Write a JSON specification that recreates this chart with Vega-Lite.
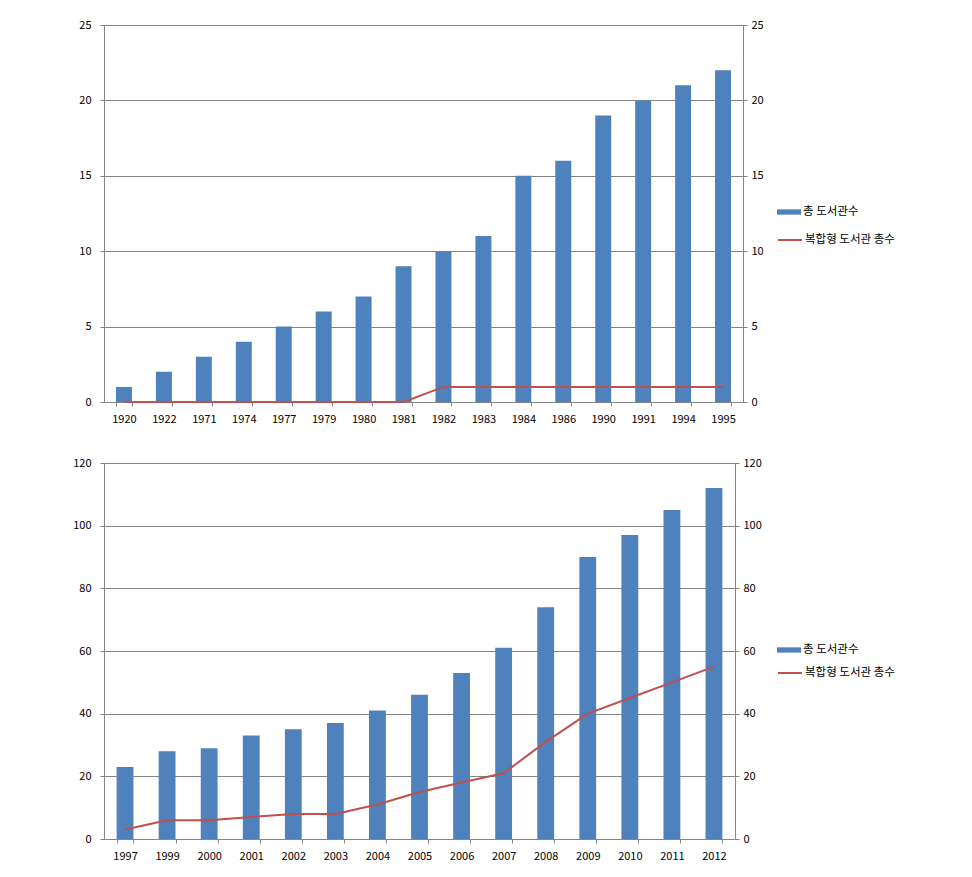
{
  "$schema": "https://vega.github.io/schema/vega-lite/v6.json",
  "padding": {"left": 72, "top": 19, "right": 0, "bottom": 0},
  "background": "white",
  "spacing": 33,
  "config": {
    "font": "Noto Sans CJK KR",
    "view": {"stroke": null},
    "axis": {
      "labelFont": "Noto Sans CJK KR",
      "labelFontSize": 11,
      "labelColor": "#000000",
      "domainColor": "#868686",
      "tickColor": "#868686",
      "gridColor": "#868686",
      "tickSize": 4,
      "title": null
    },
    "legend": {
      "orient": "none",
      "title": null,
      "labelFont": "Noto Sans CJK KR",
      "labelFontSize": 11.5,
      "labelColor": "#000000",
      "labelOffset": 2,
      "padding": 0,
      "symbolSize": 576
    }
  },
  "resolve": {
    "scale": {"fill": "independent", "stroke": "independent"},
    "legend": {"fill": "independent", "stroke": "independent"}
  },
  "vconcat": [
    {
      "width": 639,
      "height": 377,
      "data": {"values": [
        {"year": "1920", "total": 1, "complex": 0},
        {"year": "1922", "total": 2, "complex": 0},
        {"year": "1971", "total": 3, "complex": 0},
        {"year": "1974", "total": 4, "complex": 0},
        {"year": "1977", "total": 5, "complex": 0},
        {"year": "1979", "total": 6, "complex": 0},
        {"year": "1980", "total": 7, "complex": 0},
        {"year": "1981", "total": 9, "complex": 0},
        {"year": "1982", "total": 10, "complex": 1},
        {"year": "1983", "total": 11, "complex": 1},
        {"year": "1984", "total": 15, "complex": 1},
        {"year": "1986", "total": 16, "complex": 1},
        {"year": "1990", "total": 19, "complex": 1},
        {"year": "1991", "total": 20, "complex": 1},
        {"year": "1994", "total": 21, "complex": 1},
        {"year": "1995", "total": 22, "complex": 1}
      ]},
      "encoding": {
        "x": {
          "field": "year", "type": "ordinal", "sort": null,
          "scale": {"paddingInner": 0.6, "paddingOuter": 0.3},
          "axis": {"labelAngle": 0, "tickBand": "extent", "labelPadding": 7, "grid": false}
        }
      },
      "layer": [
        {
          "mark": {"type": "bar"},
          "encoding": {
            "y": {"field": "total", "type": "quantitative",
              "scale": {"domain": [0, 25], "nice": false},
              "axis": {"orient": "left", "values": [0, 5, 10, 15, 20, 25], "grid": true, "labelPadding": 9}},
            "fill": {"datum": "총 도서관수", "type": "nominal",
              "scale": {"range": ["#4f81bd"]},
              "legend": {"legendX": 673, "legendY": 175, "symbolType": "M-1,-0.22H1V0.22H-1Z", "symbolStrokeWidth": 0}}
          }
        },
        {
          "mark": {"type": "line", "strokeWidth": 2},
          "encoding": {
            "y": {"field": "complex", "type": "quantitative",
              "scale": {"domain": [0, 25], "nice": false},
              "axis": {"orient": "right", "values": [0, 5, 10, 15, 20, 25], "grid": false, "labelPadding": 4}},
            "stroke": {"datum": "복합형 도서관 총수", "type": "nominal",
              "scale": {"range": ["#c0504d"]},
              "legend": {"legendX": 673, "legendY": 202, "symbolType": "stroke", "symbolStrokeWidth": 2}}
          }
        }
      ],
      "resolve": {"scale": {"y": "independent"}}
    },
    {
      "width": 631,
      "height": 376,
      "data": {"values": [
        {"year": "1997", "total": 23, "complex": 3},
        {"year": "1999", "total": 28, "complex": 6},
        {"year": "2000", "total": 29, "complex": 6},
        {"year": "2001", "total": 33, "complex": 7},
        {"year": "2002", "total": 35, "complex": 8},
        {"year": "2003", "total": 37, "complex": 8},
        {"year": "2004", "total": 41, "complex": 11},
        {"year": "2005", "total": 46, "complex": 15},
        {"year": "2006", "total": 53, "complex": 18},
        {"year": "2007", "total": 61, "complex": 21},
        {"year": "2008", "total": 74, "complex": 31},
        {"year": "2009", "total": 90, "complex": 40},
        {"year": "2010", "total": 97, "complex": 45},
        {"year": "2011", "total": 105, "complex": 50},
        {"year": "2012", "total": 112, "complex": 55}
      ]},
      "encoding": {
        "x": {
          "field": "year", "type": "ordinal", "sort": null,
          "scale": {"paddingInner": 0.6, "paddingOuter": 0.3},
          "axis": {"labelAngle": 0, "tickBand": "extent", "labelPadding": 7, "grid": false}
        }
      },
      "layer": [
        {
          "mark": {"type": "bar"},
          "encoding": {
            "y": {"field": "total", "type": "quantitative",
              "scale": {"domain": [0, 120], "nice": false},
              "axis": {"orient": "left", "values": [0, 20, 40, 60, 80, 100, 120], "grid": true, "labelPadding": 9}},
            "fill": {"datum": "총 도서관수", "type": "nominal",
              "scale": {"range": ["#4f81bd"]},
              "legend": {"legendX": 673, "legendY": 175, "symbolType": "M-1,-0.22H1V0.22H-1Z", "symbolStrokeWidth": 0}}
          }
        },
        {
          "mark": {"type": "line", "strokeWidth": 2},
          "encoding": {
            "y": {"field": "complex", "type": "quantitative",
              "scale": {"domain": [0, 120], "nice": false},
              "axis": {"orient": "right", "values": [0, 20, 40, 60, 80, 100, 120], "grid": false, "labelPadding": 4}},
            "stroke": {"datum": "복합형 도서관 총수", "type": "nominal",
              "scale": {"range": ["#c0504d"]},
              "legend": {"legendX": 673, "legendY": 197, "symbolType": "stroke", "symbolStrokeWidth": 2}}
          }
        }
      ],
      "resolve": {"scale": {"y": "independent"}}
    }
  ]
}
